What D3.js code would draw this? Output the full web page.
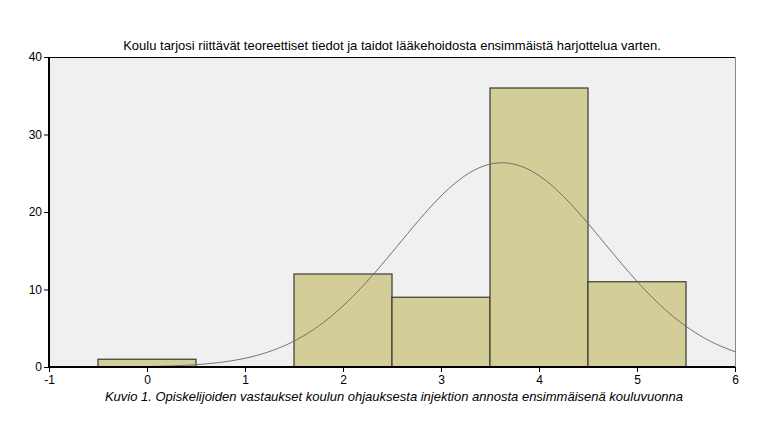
<!DOCTYPE html>
<html>
<head>
<meta charset="utf-8">
<script src="https://cdn.jsdelivr.net/npm/d3@7"></script>
<style>
  body { margin: 0; background: #fff; }
  text { font-family: "Liberation Sans", Arial, sans-serif; }
</style>
</head>
<body>
<div id="chart"></div>
<script>
// histogram data
const categories = [0, 1, 2, 3, 4, 5];
const counts = [1, 0, 12, 9, 36, 11];
const xTicks = [-1, 0, 1, 2, 3, 4, 5, 6];
const yTicks = [0, 10, 20, 30, 40];
const title = 'Koulu tarjosi riittävät teoreettiset tiedot ja taidot lääkehoidosta ensimmäistä harjottelua varten.';
const caption = 'Kuvio 1. Opiskelijoiden vastaukset koulun ohjauksesta injektion annosta ensimmäisenä kouluvuonna';

const width = 765, height = 436;
const margin = {top: 57, right: 30, bottom: 69, left: 49};
const w = width - margin.left - margin.right;
const h = height - margin.top - margin.bottom;

const svg = d3.select('#chart').append('svg')
    .attr('width', width)
    .attr('height', height);

const x = d3.scaleLinear().domain([-1, 6]).range([0, w]);
const y = d3.scaleLinear().domain([0, 40]).range([h, 0]);

const g = svg.append('g')
    .attr('transform', `translate(${margin.left},${margin.top})`);

// plot background + frame
g.append('rect')
    .attr('width', w).attr('height', h)
    .attr('fill', '#f0f0f0');
g.append('line')
    .attr('x1', 0).attr('x2', w).attr('y1', 0.5).attr('y2', 0.5)
    .attr('stroke', '#000');
g.append('line')
    .attr('x1', w + 0.5).attr('x2', w + 0.5).attr('y1', 0).attr('y2', h)
    .attr('stroke', '#888');

// bars
const bins = categories.map((c, i) => ({c, n: counts[i]})).filter(d => d.n > 0);
g.selectAll('rect.bar')
  .data(bins)
  .join('rect')
    .attr('class', 'bar')
    .attr('x', d => x(d.c - 0.5))
    .attr('y', d => y(d.n))
    .attr('width', d => x(d.c + 0.5) - x(d.c - 0.5))
    .attr('height', d => y(0) - y(d.n))
    .attr('fill', '#d3ce98')
    .attr('stroke', '#3a3a30')
    .attr('stroke-width', 1.2);

// normal curve fitted to the counts
const total = d3.sum(counts);
const mean = d3.sum(categories, (c, i) => c * counts[i]) / total;
const sd = Math.sqrt(d3.sum(categories, (c, i) => counts[i] * (c - mean) ** 2) / (total - 1));
const dens = v => total / (sd * Math.sqrt(2 * Math.PI)) * Math.exp(-0.5 * ((v - mean) / sd) ** 2);
const curveXs = d3.range(-0.5, 6.0001, 0.02);
g.append('path')
    .datum(curveXs)
    .attr('fill', 'none')
    .attr('stroke', '#6e6e6e')
    .attr('stroke-width', 1)
    .attr('d', d3.line().x(v => x(v)).y(v => y(dens(v))));

// axes
const fmt = v => String(v);
const yAxis = g.append('g')
    .call(d3.axisLeft(y).tickValues(yTicks).tickFormat(fmt).tickSize(5).tickPadding(2));
const xAxis = g.append('g')
    .attr('transform', `translate(0,${h})`)
    .call(d3.axisBottom(x).tickValues(xTicks).tickFormat(fmt).tickSize(5).tickPadding(3));
[xAxis, yAxis].forEach(a => {
  a.select('.domain').attr('stroke', '#000').attr('stroke-width', 2);
  a.selectAll('.tick line').attr('stroke', '#000');
  a.selectAll('.tick text')
    .attr('fill', '#000')
    .style('font-size', '12px')
    .style('font-family', '"Liberation Sans", Arial, sans-serif');
});
yAxis.select('.domain').attr('d', `M0,${h}V0`);
xAxis.select('.domain').attr('d', `M0,0H${w}`);

// title and caption
svg.append('text')
    .attr('x', 392).attr('y', 50)
    .attr('text-anchor', 'middle')
    .style('font-size', '13px')
    .text(title);
svg.append('text')
    .attr('x', 394).attr('y', 401)
    .attr('text-anchor', 'middle')
    .style('font-size', '13px')
    .style('font-style', 'italic')
    .text(caption);
</script>
</body>
</html>
